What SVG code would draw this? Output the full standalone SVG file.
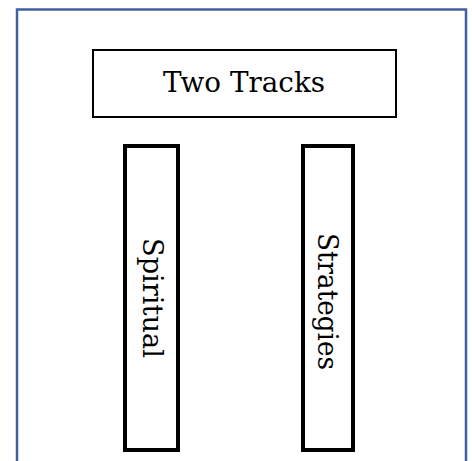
<svg xmlns="http://www.w3.org/2000/svg" width="472" height="461" viewBox="0 0 472 461">
<style>
.lbl{font-family:"DejaVu Serif","Liberation Serif",serif;font-size:28px;fill:#000;text-anchor:middle}
.box{fill:#fff;stroke:#000}
</style>
<rect width="472" height="461" fill="#fff"/>
<path id="frame" d="M17,470 V9.5 H466 V470" fill="none" stroke="#41609f" stroke-width="2.5"/>
<g id="two-tracks">
<rect class="box" x="93" y="50" width="303" height="67" stroke-width="2"/>
<text class="lbl" x="244" y="92" textLength="162" lengthAdjust="spacingAndGlyphs">Two Tracks</text>
</g>
<g id="spiritual">
<rect class="box" x="125" y="146" width="53" height="304" stroke-width="4"/>
<text class="lbl" transform="translate(143,298) rotate(90)" x="0" y="0" textLength="120" lengthAdjust="spacingAndGlyphs">Spiritual</text>
</g>
<g id="strategies">
<rect class="box" x="303" y="146" width="50" height="304" stroke-width="4"/>
<text class="lbl" transform="translate(318,301.5) rotate(90)" x="0" y="0" textLength="137" lengthAdjust="spacingAndGlyphs">Strategies</text>
</g>
<g id="connectors"></g>
</svg>
